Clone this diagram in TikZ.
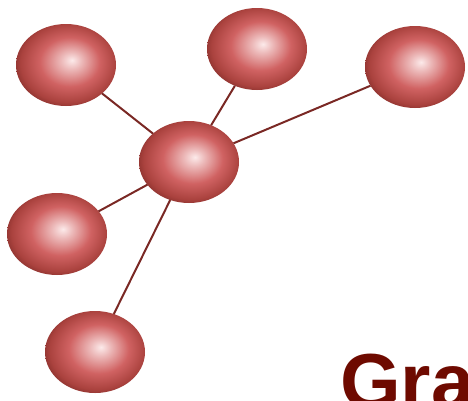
\documentclass[tikz,border=0pt]{standalone}
\usepackage{fontspec}
\setmainfont{Liberation Sans}
\usetikzlibrary{shapes.geometric}

\definecolor{ballhi}{RGB}{252,234,234}
\definecolor{ballmid}{RGB}{208,98,98}
\definecolor{balldark}{RGB}{170,66,62}
\definecolor{ballout}{RGB}{108,33,29}
\definecolor{linkred}{RGB}{122,40,36}
\definecolor{titlered}{RGB}{110,10,0}

\pgfdeclareradialshading{redball}{\pgfpoint{3bp}{3bp}}{%
  color(0bp)=(ballhi); color(5bp)=(ballhi!65!ballmid);
  color(15bp)=(ballmid); color(24bp)=(balldark);
  color(31bp)=(ballout); color(40bp)=(ballout)}

\begin{document}
\begin{tikzpicture}[x=1pt,y=-1pt,
    ball/.style={ellipse,shading=redball,minimum width=100pt,minimum height=82pt,inner sep=0pt,outer sep=0pt},
    link/.style={draw=linkred,line width=2pt}]
    \useasboundingbox (0,0) rectangle (468,400);
    \clip (0,0) rectangle (468,400);
    \node[ball] at (189,162) (hub) {};
    \node[ball] at (66,65) (nw) {};
    \node[ball] at (257,49) (n) {};
    \node[ball] at (415,67) (ne) {};
    \node[ball] at (57,234) (w) {};
    \node[ball] at (95,352) (sw) {};
    \path[link] (hub) edge (nw)
                (hub) edge (n)
                (hub) edge (ne)
                (hub) edge (w)
                (hub) edge (sw);
    \node[anchor=base west,inner sep=0pt,text=titlered,font=\fontsize{78}{80}\selectfont\bfseries] at (340,408) (title) {Gra};
\end{tikzpicture}
\end{document}
